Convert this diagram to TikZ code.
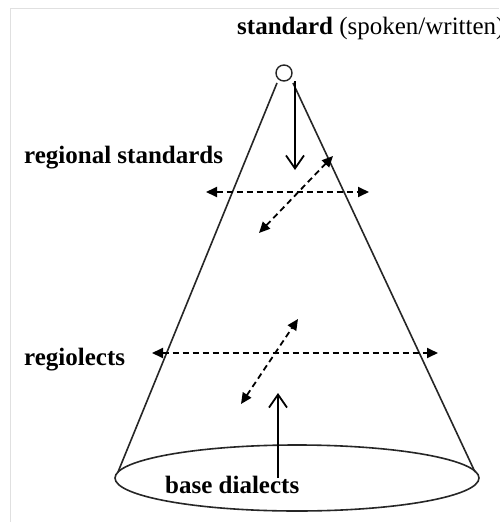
\documentclass[tikz,border=0pt]{standalone}
\usepackage{fontspec}
\setmainfont{Liberation Serif}
\usetikzlibrary{arrows.meta,shapes.geometric}
\begin{document}
\begin{tikzpicture}[x=1pt,y=-1pt,
  cone/.style={line width=1.6pt,draw=black!85},
  dasharrow/.style={line width=1.8pt,dash pattern=on 6pt off 4pt,{Triangle[length=11pt,width=10pt]}-{Triangle[length=11pt,width=10pt]}},
  solidarrow/.style={line width=1.8pt,-{Straight Barb[length=13pt,width=18pt,line width=1.8pt]}},
  lbl/.style={font=\fontsize{25}{30}\selectfont,inner sep=0pt,anchor=base west}]
\useasboundingbox (0,0) rectangle (499,522);
\fill[white] (0,0) rectangle (499,522);
\draw[black!12,line width=1pt] (10,522) -- (10,8) -- (499,8);
% cone
\node[circle,draw=black!85,line width=1.4pt,minimum size=16pt,inner sep=0pt] (apex) at (284,73) {};
\node[ellipse,draw=black!85,line width=1.6pt,minimum width=364pt,minimum height=66pt,inner sep=0pt] (base) at (297,478) {};
\coordinate (tl) at (277,83);
\coordinate (tr) at (293,83);
\coordinate (bl) at (118,472);
\coordinate (br) at (475,472);
\draw[cone] (tl) -- (bl);
\draw[cone] (tr) -- (br);
% arrows
\coordinate (d1) at (295,81);
\coordinate (d2) at (295,170);
\draw[solidarrow] (d1) -- (d2);
\coordinate (u1) at (278,478);
\coordinate (u2) at (278,393);
\draw[solidarrow] (u1) -- (u2);
\coordinate (rh1) at (206,192);
\coordinate (rh2) at (369,192);
\draw[dasharrow] (rh1) -- (rh2);
\coordinate (rd1) at (259,233);
\coordinate (rd2) at (333,156);
\draw[dasharrow] (rd1) -- (rd2);
\coordinate (gh1) at (152,353);
\coordinate (gh2) at (438,353);
\draw[dasharrow] (gh1) -- (gh2);
\coordinate (gd1) at (241,404);
\coordinate (gd2) at (298,319);
\draw[dasharrow] (gd1) -- (gd2);
% labels
\node[lbl] (std) at (237,34) {\textbf{standard} (spoken/written)};
\node[lbl] (reg) at (24,163) {\textbf{regional standards}};
\node[lbl] (rgl) at (24,365) {\textbf{regiolects}};
\node[lbl] (bd) at (165,493) {\textbf{base dialects}};
\end{tikzpicture}
\end{document}
